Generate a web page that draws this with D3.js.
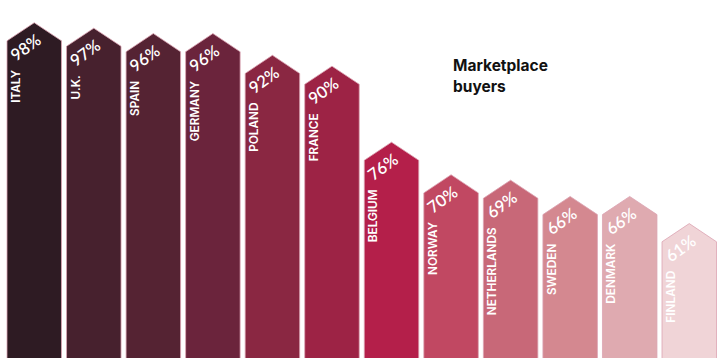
<!DOCTYPE html>
<html><head><meta charset="utf-8">
<script src="https://cdn.jsdelivr.net/npm/d3@7/dist/d3.min.js"></script>
<style>html,body{margin:0;padding:0;background:#fff;}svg{display:block;}</style>
</head><body><svg id="c" width="726" height="358"></svg>
<script>
const countries = ["ITALY","U.K.","SPAIN","GERMANY","POLAND","FRANCE","BELGIUM","NORWAY","NETHERLANDS","SWEDEN","DENMARK","FINLAND"];
const values = [98,97,96,96,92,90,76,70,69,66,66,61];
const colors = ["#2e1b23","#47212e","#552333","#6b243c","#8a2742","#9d2345","#b41f4a","#c14862","#c86878","#d48890","#dfaab0","#f0d4d7"];
const title = ["Marketplace","buyers"];

const W = 726, H = 358;
const svg = d3.select("#c");
const x = d3.scaleBand().domain(countries).range([7, 716.5]).paddingInner(0.085).paddingOuter(0);
const y = d3.scaleLinear().domain([0, 100]).range([573, 30]);
const bw = x.bandwidth();
const peak = bw / 3;
const ang = 36;

const g = svg.append("g");
countries.forEach((c, i) => {
  const x0 = x(c), x1 = x0 + bw, ys = y(values[i]);
  const p = d3.path();
  p.moveTo(x0, H + 2);
  p.lineTo(x0, ys);
  p.lineTo(x0 + bw / 2, ys - peak);
  p.lineTo(x1, ys);
  p.lineTo(x1, H + 2);
  p.closePath();
  g.append("path").attr("d", p.toString()).attr("fill", colors[i])
    .attr("stroke", "#dca3b3").attr("stroke-width", 0.8);
  g.append("text")
    .attr("transform", `translate(${x0 + 13},${ys + 29}) rotate(-90)`)
    .attr("text-anchor", "end")
    .attr("font-family", "Inter, 'Noto Sans', sans-serif")
    .attr("font-weight", 600).attr("font-size", 11.8).attr("fill", "#fff")
    .text(c);
  g.append("text")
    .attr("transform", `translate(${x0 + 9},${ys + 21}) rotate(${-ang})`)
    .attr("font-family", "Lato, 'Open Sans', sans-serif")
    .attr("font-weight", 600).attr("font-size", 16.5).attr("fill", "#fff")
    .text(values[i] + "%");
});

const t = svg.append("text").attr("font-family", "Inter, sans-serif")
  .attr("font-weight", 700).attr("font-size", 15.5).attr("fill", "#111");
title.forEach((s, i) => t.append("tspan").attr("x", 453).attr("y", 71 + i * 21).text(s));
</script></body></html>
